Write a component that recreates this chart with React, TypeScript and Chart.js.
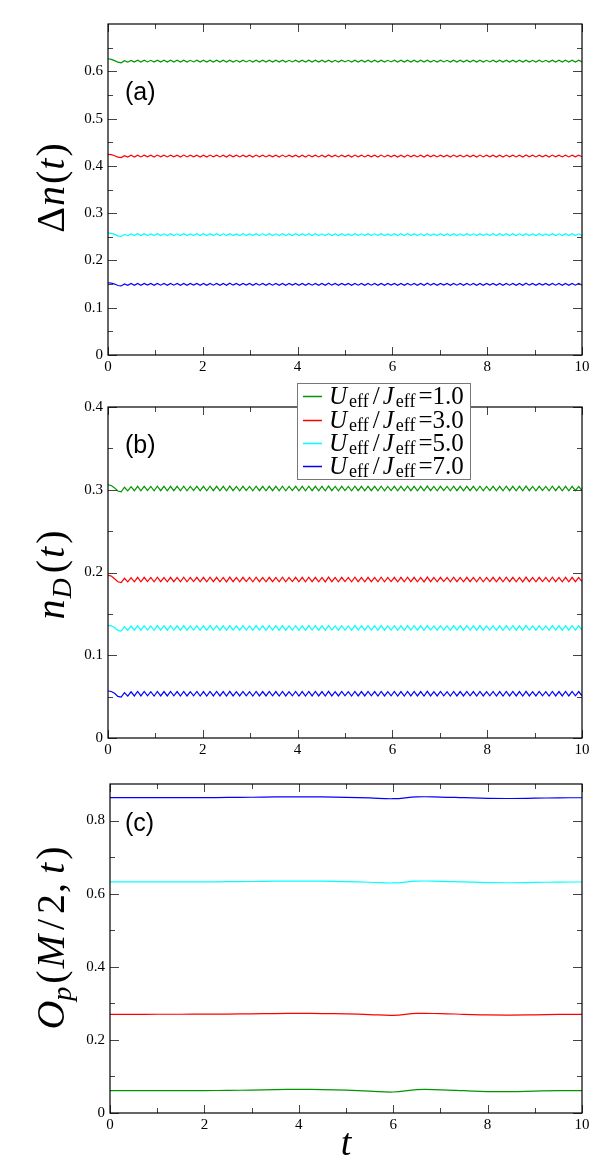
import React, { useEffect, useRef } from 'react';
import { Chart, registerables } from 'chart.js';

Chart.register(...registerables);

// ---------------- data ----------------
const LEGEND_VALUES = ['1.0', '3.0', '5.0', '7.0'];
const COLORS = ['rgb(0,150,0)', '#ff0000', '#00ffff', '#0000ff'];

const X_TICKS = [0, 2, 4, 6, 8, 10];
const X_MINOR = [1, 3, 5, 7, 9];

const A_Y_TICKS = [0, 0.1, 0.2, 0.3, 0.4, 0.5, 0.6];
const A_Y_MINOR = [0.05, 0.15, 0.25, 0.35, 0.45, 0.55, 0.65];
const B_Y_TICKS = [0, 0.1, 0.2, 0.3, 0.4];
const B_Y_MINOR = [0.05, 0.15, 0.25, 0.35];
const C_Y_TICKS = [0, 0.2, 0.4, 0.6, 0.8];
const C_Y_MINOR = [0.1, 0.3, 0.5, 0.7];

// panel (a): Delta n(t)
const A_GREEN = [
  .6265, .6252, .6226, .6192, .6180, .6222, .6193, .6231, .6195, .6234,
  .6196, .6234, .6198, .6232, .6195, .6235, .6197, .6233, .6196, .6234,
  .6197, .6233, .6195, .6235, .6196, .6232, .6198, .6234, .6195, .6233,
  .6195, .6235, .6197, .6234, .6196, .6233, .6195, .6236, .6197, .6232,
  .6196, .6234, .6198, .6232, .6195, .6235, .6197, .6233, .6196, .6234,
  .6197, .6233, .6195, .6235, .6196, .6232, .6198, .6234, .6195, .6233,
  .6195, .6235, .6197, .6234, .6196, .6233, .6195, .6236, .6197, .6232,
  .6196, .6234, .6198, .6232, .6195, .6235, .6197, .6233, .6196, .6234,
  .6197, .6233, .6195, .6235, .6196, .6232, .6198, .6234, .6195, .6233,
  .6195, .6235, .6197, .6234, .6196, .6233, .6195, .6236, .6197, .6232,
  .6196, .6234, .6198, .6232, .6195, .6235, .6197, .6233, .6196, .6234,
  .6197, .6233, .6195, .6235, .6196, .6232, .6198, .6234, .6195, .6233,
  .6195, .6235, .6197, .6234, .6196, .6233, .6195, .6236, .6197, .6232,
  .6196, .6234, .6198, .6232, .6195, .6235, .6197, .6233, .6196, .6234,
  .6196, .6234, .6197, .6233, .6198,
];
const A_RED = [
  .4242, .4236, .4214, .4184, .4175, .4215, .4186, .4224, .4188, .4227,
  .4189, .4227, .4191, .4225, .4188, .4228, .4190, .4226, .4189, .4227,
  .4190, .4226, .4188, .4228, .4189, .4225, .4191, .4227, .4188, .4226,
  .4188, .4228, .4190, .4227, .4189, .4226, .4188, .4229, .4190, .4225,
  .4189, .4227, .4191, .4225, .4188, .4228, .4190, .4226, .4189, .4227,
  .4190, .4226, .4188, .4228, .4189, .4225, .4191, .4227, .4188, .4226,
  .4188, .4228, .4190, .4227, .4189, .4226, .4188, .4229, .4190, .4225,
  .4189, .4227, .4191, .4225, .4188, .4228, .4190, .4226, .4189, .4227,
  .4190, .4226, .4188, .4228, .4189, .4225, .4191, .4227, .4188, .4226,
  .4188, .4228, .4190, .4227, .4189, .4226, .4188, .4229, .4190, .4225,
  .4189, .4227, .4191, .4225, .4188, .4228, .4190, .4226, .4189, .4227,
  .4190, .4226, .4188, .4228, .4189, .4225, .4191, .4227, .4188, .4226,
  .4188, .4228, .4190, .4227, .4189, .4226, .4188, .4229, .4190, .4225,
  .4189, .4227, .4191, .4225, .4188, .4228, .4190, .4226, .4189, .4227,
  .4189, .4227, .4190, .4226, .4191,
];
const A_CYAN = [
  .2578, .2572, .2550, .2520, .2510, .2552, .2523, .2561, .2525, .2564,
  .2526, .2564, .2528, .2562, .2525, .2565, .2527, .2563, .2526, .2564,
  .2527, .2563, .2525, .2565, .2526, .2562, .2528, .2564, .2525, .2563,
  .2525, .2565, .2527, .2564, .2526, .2563, .2525, .2566, .2527, .2562,
  .2526, .2564, .2528, .2562, .2525, .2565, .2527, .2563, .2526, .2564,
  .2527, .2563, .2525, .2565, .2526, .2562, .2528, .2564, .2525, .2563,
  .2525, .2565, .2527, .2564, .2526, .2563, .2525, .2566, .2527, .2562,
  .2526, .2564, .2528, .2562, .2525, .2565, .2527, .2563, .2526, .2564,
  .2527, .2563, .2525, .2565, .2526, .2562, .2528, .2564, .2525, .2563,
  .2525, .2565, .2527, .2564, .2526, .2563, .2525, .2566, .2527, .2562,
  .2526, .2564, .2528, .2562, .2525, .2565, .2527, .2563, .2526, .2564,
  .2527, .2563, .2525, .2565, .2526, .2562, .2528, .2564, .2525, .2563,
  .2525, .2565, .2527, .2564, .2526, .2563, .2525, .2566, .2527, .2562,
  .2526, .2564, .2528, .2562, .2525, .2565, .2527, .2563, .2526, .2564,
  .2526, .2564, .2527, .2563, .2528,
];
const A_BLUE = [
  .1528, .1522, .1500, .1470, .1460, .1502, .1473, .1511, .1475, .1514,
  .1476, .1514, .1478, .1512, .1475, .1515, .1477, .1513, .1476, .1514,
  .1477, .1513, .1475, .1515, .1476, .1512, .1478, .1514, .1475, .1513,
  .1475, .1515, .1477, .1514, .1476, .1513, .1475, .1516, .1477, .1512,
  .1476, .1514, .1478, .1512, .1475, .1515, .1477, .1513, .1476, .1514,
  .1477, .1513, .1475, .1515, .1476, .1512, .1478, .1514, .1475, .1513,
  .1475, .1515, .1477, .1514, .1476, .1513, .1475, .1516, .1477, .1512,
  .1476, .1514, .1478, .1512, .1475, .1515, .1477, .1513, .1476, .1514,
  .1477, .1513, .1475, .1515, .1476, .1512, .1478, .1514, .1475, .1513,
  .1475, .1515, .1477, .1514, .1476, .1513, .1475, .1516, .1477, .1512,
  .1476, .1514, .1478, .1512, .1475, .1515, .1477, .1513, .1476, .1514,
  .1477, .1513, .1475, .1515, .1476, .1512, .1478, .1514, .1475, .1513,
  .1475, .1515, .1477, .1514, .1476, .1513, .1475, .1516, .1477, .1512,
  .1476, .1514, .1478, .1512, .1475, .1515, .1477, .1513, .1476, .1514,
  .1476, .1514, .1477, .1513, .1478,
];

// panel (b): n_D(t)
const B_GREEN = [
  .3058, .3052, .3022, .2985, .2975, .3030, .2986, .3038, .2988, .3042,
  .2988, .3042, .2990, .3040, .2987, .3043, .2989, .3041, .2988, .3042,
  .2989, .3041, .2987, .3043, .2988, .3040, .2990, .3042, .2987, .3041,
  .2987, .3043, .2989, .3042, .2988, .3041, .2987, .3044, .2989, .3040,
  .2988, .3042, .2990, .3040, .2987, .3043, .2989, .3041, .2988, .3042,
  .2989, .3041, .2987, .3043, .2988, .3040, .2990, .3042, .2987, .3041,
  .2987, .3043, .2989, .3042, .2988, .3041, .2987, .3044, .2989, .3040,
  .2988, .3042, .2990, .3040, .2987, .3043, .2989, .3041, .2988, .3042,
  .2989, .3041, .2987, .3043, .2988, .3040, .2990, .3042, .2987, .3041,
  .2987, .3043, .2989, .3042, .2988, .3041, .2987, .3044, .2989, .3040,
  .2988, .3042, .2990, .3040, .2987, .3043, .2989, .3041, .2988, .3042,
  .2989, .3041, .2987, .3043, .2988, .3040, .2990, .3042, .2987, .3041,
  .2987, .3043, .2989, .3042, .2988, .3041, .2987, .3044, .2989, .3040,
  .2988, .3042, .2990, .3040, .2987, .3043, .2989, .3041, .2988, .3042,
  .2988, .3042, .2989, .3041, .2990,
];
const B_RED = [
  .1966, .1958, .1925, .1888, .1878, .1930, .1886, .1938, .1888, .1942,
  .1888, .1942, .1890, .1940, .1887, .1943, .1889, .1941, .1888, .1942,
  .1889, .1941, .1887, .1943, .1888, .1940, .1890, .1942, .1887, .1941,
  .1887, .1943, .1889, .1942, .1888, .1941, .1887, .1944, .1889, .1940,
  .1888, .1942, .1890, .1940, .1887, .1943, .1889, .1941, .1888, .1942,
  .1889, .1941, .1887, .1943, .1888, .1940, .1890, .1942, .1887, .1941,
  .1887, .1943, .1889, .1942, .1888, .1941, .1887, .1944, .1889, .1940,
  .1888, .1942, .1890, .1940, .1887, .1943, .1889, .1941, .1888, .1942,
  .1889, .1941, .1887, .1943, .1888, .1940, .1890, .1942, .1887, .1941,
  .1887, .1943, .1889, .1942, .1888, .1941, .1887, .1944, .1889, .1940,
  .1888, .1942, .1890, .1940, .1887, .1943, .1889, .1941, .1888, .1942,
  .1889, .1941, .1887, .1943, .1888, .1940, .1890, .1942, .1887, .1941,
  .1887, .1943, .1889, .1942, .1888, .1941, .1887, .1944, .1889, .1940,
  .1888, .1942, .1890, .1940, .1887, .1943, .1889, .1941, .1888, .1942,
  .1888, .1942, .1889, .1941, .1890,
];
const B_CYAN = [
  .1362, .1356, .1335, .1300, .1292, .1345, .1301, .1353, .1303, .1357,
  .1303, .1357, .1305, .1355, .1302, .1358, .1304, .1356, .1303, .1357,
  .1304, .1356, .1302, .1358, .1303, .1355, .1305, .1357, .1302, .1356,
  .1302, .1358, .1304, .1357, .1303, .1356, .1302, .1359, .1304, .1355,
  .1303, .1357, .1305, .1355, .1302, .1358, .1304, .1356, .1303, .1357,
  .1304, .1356, .1302, .1358, .1303, .1355, .1305, .1357, .1302, .1356,
  .1302, .1358, .1304, .1357, .1303, .1356, .1302, .1359, .1304, .1355,
  .1303, .1357, .1305, .1355, .1302, .1358, .1304, .1356, .1303, .1357,
  .1304, .1356, .1302, .1358, .1303, .1355, .1305, .1357, .1302, .1356,
  .1302, .1358, .1304, .1357, .1303, .1356, .1302, .1359, .1304, .1355,
  .1303, .1357, .1305, .1355, .1302, .1358, .1304, .1356, .1303, .1357,
  .1304, .1356, .1302, .1358, .1303, .1355, .1305, .1357, .1302, .1356,
  .1302, .1358, .1304, .1357, .1303, .1356, .1302, .1359, .1304, .1355,
  .1303, .1357, .1305, .1355, .1302, .1358, .1304, .1356, .1303, .1357,
  .1303, .1357, .1304, .1356, .1305,
];
const B_BLUE = [
  .0568, .0562, .0540, .0502, .0494, .0548, .0506, .0558, .0508, .0562,
  .0508, .0562, .0510, .0560, .0507, .0563, .0509, .0561, .0508, .0562,
  .0509, .0561, .0507, .0563, .0508, .0560, .0510, .0562, .0507, .0561,
  .0507, .0563, .0509, .0562, .0508, .0561, .0507, .0564, .0509, .0560,
  .0508, .0562, .0510, .0560, .0507, .0563, .0509, .0561, .0508, .0562,
  .0509, .0561, .0507, .0563, .0508, .0560, .0510, .0562, .0507, .0561,
  .0507, .0563, .0509, .0562, .0508, .0561, .0507, .0564, .0509, .0560,
  .0508, .0562, .0510, .0560, .0507, .0563, .0509, .0561, .0508, .0562,
  .0509, .0561, .0507, .0563, .0508, .0560, .0510, .0562, .0507, .0561,
  .0507, .0563, .0509, .0562, .0508, .0561, .0507, .0564, .0509, .0560,
  .0508, .0562, .0510, .0560, .0507, .0563, .0509, .0561, .0508, .0562,
  .0509, .0561, .0507, .0563, .0508, .0560, .0510, .0562, .0507, .0561,
  .0507, .0563, .0509, .0562, .0508, .0561, .0507, .0564, .0509, .0560,
  .0508, .0562, .0510, .0560, .0507, .0563, .0509, .0561, .0508, .0562,
  .0508, .0562, .0509, .0561, .0510,
];

// sampling times of panels (a) and (b): equally spaced output times 0..10
const T_AB = A_GREEN.map((_, i) => (i * 10) / (A_GREEN.length - 1));

// panel (c): O_p(M/2, t)
const T_C = [0, 0.5, 1, 1.5, 2, 2.5, 3, 3.5, 4, 4.5, 5, 5.5, 6, 6.5, 7, 7.5, 8, 8.5, 9, 9.5, 10];
const C_GREEN = [.0610, .0610, .0611, .0612, .0613, .0618, .0628, .0640, .0645, .0640, .0625, .0600, .0575, .0640, .0635, .0610, .0585, .0585, .0600, .0612, .0610];
const C_RED = [.2700, .2700, .2701, .2702, .2703, .2707, .2713, .2721, .2725, .2721, .2711, .2693, .2673, .2723, .2718, .2700, .2683, .2679, .2687, .2697, .2699];
const C_CYAN = [.6320, .6320, .6321, .6322, .6323, .6327, .6333, .6341, .6345, .6341, .6331, .6313, .6293, .6343, .6338, .6320, .6303, .6299, .6307, .6317, .6319];
const C_BLUE = [.8625, .8625, .8626, .8627, .8628, .8632, .8638, .8646, .8650, .8646, .8636, .8618, .8598, .8648, .8643, .8625, .8608, .8604, .8612, .8622, .8624];

// ---------------- styling helpers ----------------
const SERIF = '"Liberation Serif", "Times New Roman", serif';
const SANS = '"Liberation Sans", Arial, sans-serif';
const sf = (size: number, italic = false) => `${italic ? 'italic ' : ''}${size}px ${SERIF}`;

type Piece = { t: string; f: string; dy?: number; gap?: number };

function drawPieces(ctx: CanvasRenderingContext2D, pieces: Piece[], x: number, y: number, align: 'left' | 'center') {
  let w = 0;
  for (const p of pieces) {
    ctx.font = p.f;
    w += ctx.measureText(p.t).width + (p.gap || 0);
  }
  let cx = align === 'center' ? x - w / 2 : x;
  ctx.textAlign = 'left';
  ctx.textBaseline = 'alphabetic';
  for (const p of pieces) {
    ctx.font = p.f;
    ctx.fillText(p.t, cx, y + (p.dy || 0));
    cx += ctx.measureText(p.t).width + (p.gap || 0);
  }
}

const W = 607;

type Spec = {
  id: string;
  canvasTop: number;
  canvasH: number;
  left: number;
  right: number;
  top: number;
  bottom: number;
  yMax: number;
  yTicks: number[];
  yMinor: number[];
  t: number[];
  series: number[][];
  tension: number;
  letter: { text: string; x: number; y: number };
  yTitle: { pieces: Piece[]; x: number; y: number };
  xTitle?: { pieces: Piece[]; x: number; y: number };
  legend?: { x0: number; y0: number; x1: number; y1: number; lineX0: number; lineX1: number; textX: number; baselines: number[]; lineYs: number[] };
};

const legendPieces = (v: string): Piece[] => [
  { t: 'U', f: sf(25, true), gap: 2 },
  { t: 'eff', f: sf(18), dy: 3, gap: 4 },
  { t: '/', f: sf(25), gap: 3 },
  { t: 'J', f: sf(25, true), gap: 2 },
  { t: 'eff', f: sf(18), dy: 3, gap: 3 },
  { t: '=' + v, f: sf(25) },
];

function decorPlugin(spec: Spec) {
  return {
    id: 'decor_' + spec.id,
    afterDraw(chart: any) {
      const ctx: CanvasRenderingContext2D = chart.ctx;
      const { left, right, top, bottom } = chart.chartArea;
      const xs = chart.scales.x;
      const ys = chart.scales.y;
      ctx.save();
      // inward ticks on all four sides
      ctx.strokeStyle = '#444';
      ctx.lineWidth = 1;
      ctx.beginPath();
      const xt = (vals: number[], len: number) => {
        for (const v of vals) {
          const px = Math.round(xs.getPixelForValue(v)) + 0.5;
          ctx.moveTo(px, bottom); ctx.lineTo(px, bottom - len);
          ctx.moveTo(px, top); ctx.lineTo(px, top + len);
        }
      };
      const yt = (vals: number[], len: number) => {
        for (const v of vals) {
          const py = Math.round(ys.getPixelForValue(v)) + 0.5;
          ctx.moveTo(left, py); ctx.lineTo(left + len, py);
          ctx.moveTo(right, py); ctx.lineTo(right - len, py);
        }
      };
      xt(X_TICKS, 8);
      xt(X_MINOR, 5);
      yt(spec.yTicks, 9);
      yt(spec.yMinor, 5);
      ctx.stroke();
      // frame
      ctx.strokeStyle = '#000';
      ctx.lineWidth = 1.2;
      ctx.strokeRect(left, top, right - left, bottom - top);
      // panel letter
      ctx.fillStyle = '#000';
      ctx.font = `25px ${SANS}`;
      ctx.textAlign = 'left';
      ctx.textBaseline = 'alphabetic';
      ctx.fillText(spec.letter.text, spec.letter.x, spec.letter.y);
      // y-axis title (rotated)
      ctx.save();
      ctx.translate(spec.yTitle.x, spec.yTitle.y);
      ctx.rotate(-Math.PI / 2);
      drawPieces(ctx, spec.yTitle.pieces, 0, 0, 'center');
      ctx.restore();
      // x-axis title
      if (spec.xTitle) drawPieces(ctx, spec.xTitle.pieces, spec.xTitle.x, spec.xTitle.y, 'center');
      // legend
      if (spec.legend) {
        const L = spec.legend;
        ctx.fillStyle = '#fff';
        ctx.fillRect(L.x0, L.y0, L.x1 - L.x0, L.y1 - L.y0);
        ctx.strokeStyle = '#777';
        ctx.lineWidth = 1;
        ctx.strokeRect(L.x0 + 0.5, L.y0 + 0.5, L.x1 - L.x0, L.y1 - L.y0);
        LEGEND_VALUES.forEach((v, k) => {
          ctx.strokeStyle = COLORS[k];
          ctx.lineWidth = 1.5;
          ctx.beginPath();
          ctx.moveTo(L.lineX0, L.lineYs[k] + 0.5);
          ctx.lineTo(L.lineX1, L.lineYs[k] + 0.5);
          ctx.stroke();
          ctx.fillStyle = '#000';
          drawPieces(ctx, legendPieces(v), L.textX, L.baselines[k], 'left');
        });
      }
      ctx.restore();
    },
  };
}

const TICK_FONT = { family: SERIF, size: 15 };

function buildChart(canvas: HTMLCanvasElement, spec: Spec) {
  return new Chart(canvas, {
    type: 'line',
    data: {
      datasets: spec.series.map((vals, k) => ({
        label: 'U_eff/J_eff=' + LEGEND_VALUES[k],
        data: vals.map((v, i) => ({ x: spec.t[i], y: v })),
        borderColor: COLORS[k],
        backgroundColor: COLORS[k],
        borderWidth: 1.2,
        pointRadius: 0,
        tension: spec.tension,
        fill: false,
      })),
    },
    options: {
      responsive: false,
      animation: false,
      devicePixelRatio: 1,
      layout: { padding: { left: 0, top: spec.top, right: W - spec.right, bottom: 0 } },
      plugins: { legend: { display: false }, tooltip: { enabled: false } },
      scales: {
        x: {
          type: 'linear',
          min: 0,
          max: 10,
          grid: { display: false, drawTicks: false },
          border: { display: false },
          afterBuildTicks: (s: any) => { s.ticks = X_TICKS.map((v) => ({ value: v })); },
          afterFit: (s: any) => { s.height = spec.canvasH - spec.bottom; },
          ticks: { padding: 3, color: '#000', font: TICK_FONT, maxRotation: 0, autoSkip: false, callback: (v: any) => String(v) },
        },
        y: {
          type: 'linear',
          min: 0,
          max: spec.yMax,
          grid: { display: false, drawTicks: false },
          border: { display: false },
          afterBuildTicks: (s: any) => { s.ticks = spec.yTicks.map((v) => ({ value: v })); },
          afterFit: (s: any) => { s.width = spec.left; },
          ticks: { padding: 5, color: '#000', font: TICK_FONT, autoSkip: false, callback: (v: any) => (Number(v) === 0 ? '0' : Number(v).toFixed(1)) },
        },
      },
    } as any,
    plugins: [decorPlugin(spec)],
  });
}

const SPECS: Spec[] = [
  {
    id: 'a', canvasTop: 0, canvasH: 378, left: 108, right: 582, top: 24, bottom: 355,
    yMax: 0.7, yTicks: A_Y_TICKS, yMinor: A_Y_MINOR, t: T_AB,
    series: [A_GREEN, A_RED, A_CYAN, A_BLUE], tension: 0,
    letter: { text: '(a)', x: 125, y: 100 },
    yTitle: {
      x: 64, y: 188,
      pieces: [
        { t: 'Δ', f: sf(40), gap: 1 },
        { t: 'n', f: sf(40, true), gap: 2 },
        { t: '(', f: sf(40), gap: 1 },
        { t: 't', f: sf(40, true), gap: 2 },
        { t: ')', f: sf(40) },
      ],
    },
  },
  {
    id: 'b', canvasTop: 378, canvasH: 392, left: 108, right: 582, top: 29, bottom: 360,
    yMax: 0.4, yTicks: B_Y_TICKS, yMinor: B_Y_MINOR, t: T_AB,
    series: [B_GREEN, B_RED, B_CYAN, B_BLUE], tension: 0,
    letter: { text: '(b)', x: 125, y: 75 },
    yTitle: {
      x: 64, y: 197,
      pieces: [
        { t: 'n', f: sf(40, true), gap: 1 },
        { t: 'D', f: sf(28, true), dy: 7, gap: 5 },
        { t: '(', f: sf(40), gap: 2 },
        { t: 't', f: sf(40, true), gap: 3 },
        { t: ')', f: sf(40) },
      ],
    },
    legend: {
      x0: 297, y0: 5, x1: 470, y1: 101, lineX0: 303, lineX1: 322, textX: 329,
      baselines: [26, 49.5, 73, 95.5], lineYs: [18, 42, 65, 88],
    },
  },
  {
    id: 'c', canvasTop: 770, canvasH: 405, left: 110, right: 582, top: 14, bottom: 343,
    yMax: 0.9, yTicks: C_Y_TICKS, yMinor: C_Y_MINOR, t: T_C,
    series: [C_GREEN, C_RED, C_CYAN, C_BLUE], tension: 0.4,
    letter: { text: '(c)', x: 125, y: 61 },
    yTitle: {
      x: 64, y: 168,
      pieces: [
        { t: 'O', f: sf(40, true) },
        { t: 'p', f: sf(28, true), dy: 7, gap: 3 },
        { t: '(', f: sf(40), gap: 2 },
        { t: 'M', f: sf(40, true), gap: 5 },
        { t: '/', f: sf(40), gap: 5 },
        { t: '2', f: sf(40), gap: 1 },
        { t: ',', f: sf(40), gap: 9 },
        { t: 't', f: sf(40, true), gap: 3 },
        { t: ')', f: sf(40) },
      ],
    },
    xTitle: { x: 346, y: 385, pieces: [{ t: 't', f: sf(38, true) }] },
  },
];

function Panel({ spec }: { spec: Spec }) {
  const ref = useRef<HTMLCanvasElement | null>(null);
  useEffect(() => {
    if (!ref.current) return;
    const chart = buildChart(ref.current, spec);
    return () => chart.destroy();
  }, [spec]);
  return (
    <canvas
      ref={ref}
      width={W}
      height={spec.canvasH}
      style={{ position: 'absolute', left: 0, top: spec.canvasTop, width: W, height: spec.canvasH }}
    />
  );
}

export default function App() {
  return (
    <div style={{ position: 'absolute', left: 0, top: 0, width: W, height: 1175, background: '#fff', overflow: 'hidden' }}>
      {SPECS.map((s) => (
        <Panel key={s.id} spec={s} />
      ))}
    </div>
  );
}
